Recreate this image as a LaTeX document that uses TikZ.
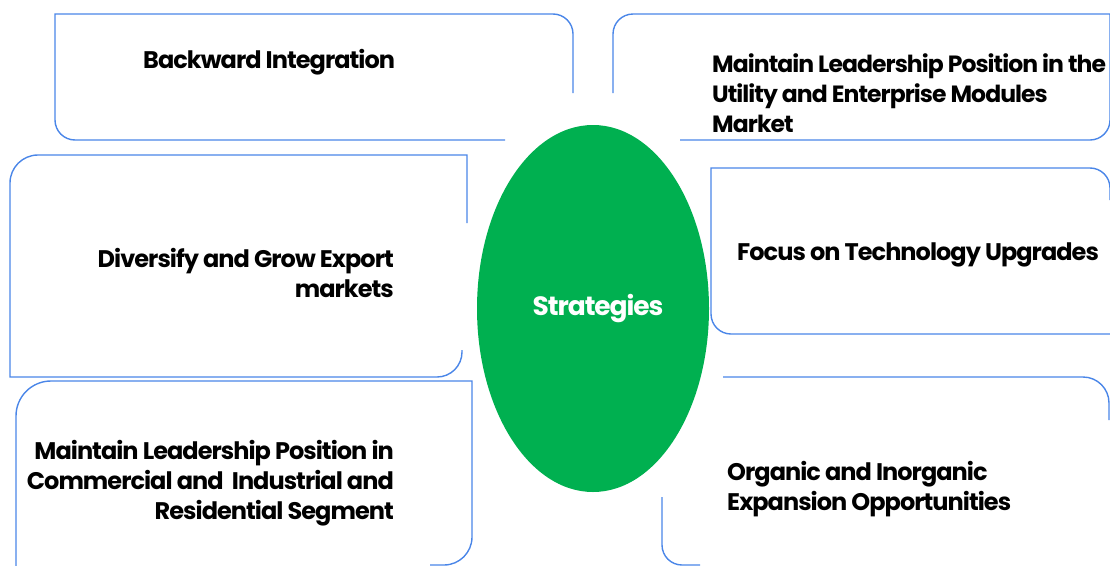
\documentclass[tikz,border=0pt]{standalone}
\usepackage{fontspec}
\setmainfont{Poppins}[LetterSpace=-4]
\usetikzlibrary{shapes.geometric}
\definecolor{bl}{RGB}{74,134,232}
\definecolor{gr}{RGB}{0,176,80}
\begin{document}
\begin{tikzpicture}[x=1pt,y=1pt,
  ln/.style={draw=bl,line width=1.4pt},
  lbl/.style={inner sep=0pt,font=\fontsize{24}{30}\selectfont\bfseries}]
\useasboundingbox (0,0) rectangle (1110,-565);
\clip (0,0) rectangle (1110,-565);
% Box A
\draw[ln] (505,-140) -- (75,-140) arc[start angle=270,end angle=180,radius=20] -- (55,-14) -- (553,-14) arc[start angle=90,end angle=0,radius=20] -- (573,-93);
% Box B
\draw[ln] (680,-140) -- (1090,-140) arc[start angle=270,end angle=360,radius=20] -- (1110,-14) -- (633,-14) arc[start angle=90,end angle=180,radius=20] -- (613,-93);
% Box C
\draw[ln] (467,-223) -- (467,-155) -- (38,-155) arc[start angle=90,end angle=180,radius=28] -- (10,-377) -- (437,-377) arc[start angle=270,end angle=360,radius=25] -- (462,-350);
% Box D
\draw[ln] (1120,-334) -- (731,-334) arc[start angle=270,end angle=180,radius=20] -- (711,-168) -- (1090,-168) arc[start angle=90,end angle=0,radius=20] -- (1110,-200);
% Box E
\draw[ln] (16,-570) -- (16,-416) arc[start angle=180,end angle=90,radius=35] -- (472,-381) -- (472,-537) arc[start angle=0,end angle=-90,radius=28] -- (430,-565);
% Box F
\draw[ln] (723,-377) -- (1083,-377) arc[start angle=90,end angle=0,radius=26] -- (1109,-420);
\draw[ln] (662,-497) -- (662,-545) arc[start angle=180,end angle=270,radius=20] -- (700,-565);
% Ellipse
\node[ellipse,fill=gr,minimum width=232pt,minimum height=367pt,inner sep=0pt] (c) at (593,-308.5) {};
\node[lbl,text=white,anchor=base,font=\fontsize{26.5}{30}\selectfont\bfseries] (cs) at (598,-315) {Strategies};
% Texts
\node[lbl,anchor=base west] (ta) at (143,-68) {Backward Integration};
\node[lbl,anchor=base west,align=left,font=\fontsize{23.5}{30}\selectfont\bfseries] (tb) at (712,-132) {Maintain Leadership Position in the\\Utility and Enterprise Modules\\Market};
\node[lbl,anchor=base east,align=right] (tc) at (394,-297) {Diversify and Grow Export\\markets};
\node[lbl,anchor=base west] (td) at (737,-260) {Focus on Technology Upgrades};
\node[lbl,anchor=base east,align=right] (te) at (394,-519) {Maintain Leadership Position in\\Commercial and~ Industrial and\\Residential Segment};
\node[lbl,anchor=base west,align=left] (tf) at (727,-510) {Organic and Inorganic\\Expansion Opportunities};
\end{tikzpicture}
\end{document}
